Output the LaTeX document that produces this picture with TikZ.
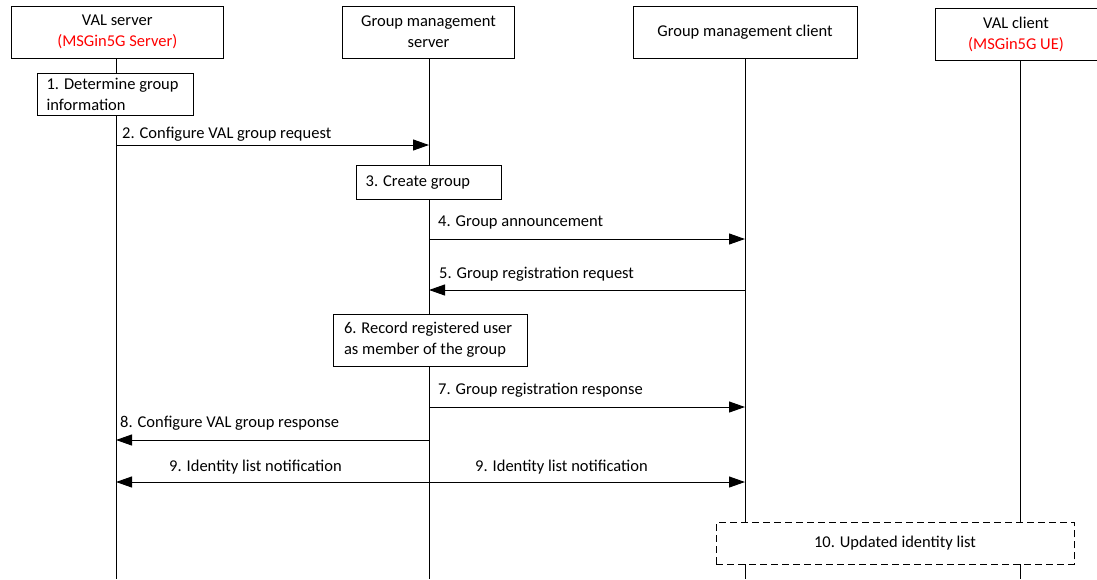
\documentclass[tikz,border=0pt]{standalone}
\usepackage{fontspec}
\setmainfont{Carlito}
\usetikzlibrary{arrows.meta}
\definecolor{msgred}{RGB}{255,0,0}
\begin{document}
\begin{tikzpicture}[x=1pt,y=-1pt,
  every node/.style={font=\fontsize{16.5}{21}\selectfont},
  hdr/.style={draw,line width=0.9pt,fill=white,align=center,inner sep=0pt},
  stepbox/.style={draw,line width=0.9pt,fill=white,align=flush left,inner ysep=0pt},
  life/.style={line width=0.9pt},
  msg/.style={line width=1pt,-{Triangle[length=16pt,width=11pt]}},
  dmsg/.style={line width=1pt,{Triangle[length=16pt,width=11pt]}-{Triangle[length=16pt,width=11pt]}},
  lbl/.style={anchor=base west,inner sep=0pt}]
\useasboundingbox (0,0) rectangle (1097,579);
% headers
\node[hdr,minimum width=211.5pt,minimum height=52pt] (vs) at (117.3,32) {VAL server\\\textcolor{msgred}{(MSGin5G Server)}};
\node[hdr,minimum width=172pt,minimum height=52pt] (gms) at (428.5,32) {Group management\\server};
\node[hdr,minimum width=224pt,minimum height=52pt] (gmc) at (745,32) {Group management client};
\node[hdr,minimum width=162pt,minimum height=52pt] (vc) at (1016,34) {VAL client\\\textcolor{msgred}{(MSGin5G UE)}};
% lifeline bottom coordinates
\coordinate (vsb) at (116,579);
\coordinate (gmsb) at (429,579);
\coordinate (gmcb) at (745,579);
\coordinate (vcb) at (1020,579);
\draw[life] (vs.south -| vsb) -- (vsb);
\draw[life] (gms.south -| gmsb) -- (gmsb);
\draw[life] (gmc.south -| gmcb) -- (gmcb);
\draw[life] (vc.south -| vcb) -- (vcb);
% step boxes
\node[stepbox,inner xsep=9pt,text width=138pt,minimum height=41.5pt] (s1) at (115.6,94.4) {1. Determine group\\information};
\node[stepbox,inner xsep=9pt,text width=127pt,minimum height=33.3pt] (s3) at (429.2,182.4) {3. Create group};
\node[stepbox,inner xsep=11pt,text width=172pt,minimum height=52pt] (s6) at (430,340) {6. Record registered user\\as member of the group};
\node[draw,line width=0.9pt,fill=white,dash pattern=on 7pt off 4pt,minimum width=358pt,minimum height=41.6pt,inner sep=0pt] (s10) at (895,543.5) {10. Updated identity list};
% messages
\coordinate (m2a) at (116,145); \coordinate (m2b) at (429,145);
\draw[msg] (m2a) -- (m2b);
\node[lbl] (l2) at (122,138) {2. Configure VAL group request};
\coordinate (m4a) at (429,239); \coordinate (m4b) at (745,239);
\draw[msg] (m4a) -- (m4b);
\node[lbl] (l4) at (438,226.7) {4. Group announcement};
\coordinate (m5a) at (745,290); \coordinate (m5b) at (429,290);
\draw[msg] (m5a) -- (m5b);
\node[lbl] (l5) at (439,278) {5. Group registration request};
\coordinate (m7a) at (429,407); \coordinate (m7b) at (745,407);
\draw[msg] (m7a) -- (m7b);
\node[lbl] (l7) at (438,394.5) {7. Group registration response};
\coordinate (m8a) at (429,440); \coordinate (m8b) at (116,440);
\draw[msg] (m8a) -- (m8b);
\node[lbl] (l8) at (120,427) {8. Configure VAL group response};
\coordinate (m9a) at (116,482); \coordinate (m9b) at (745,482);
\draw[dmsg] (m9a) -- (m9b);
\node[lbl] (l9a) at (169,471.5) {9. Identity list notification};
\node[lbl] (l9b) at (475,471.5) {9. Identity list notification};
\end{tikzpicture}
\end{document}
